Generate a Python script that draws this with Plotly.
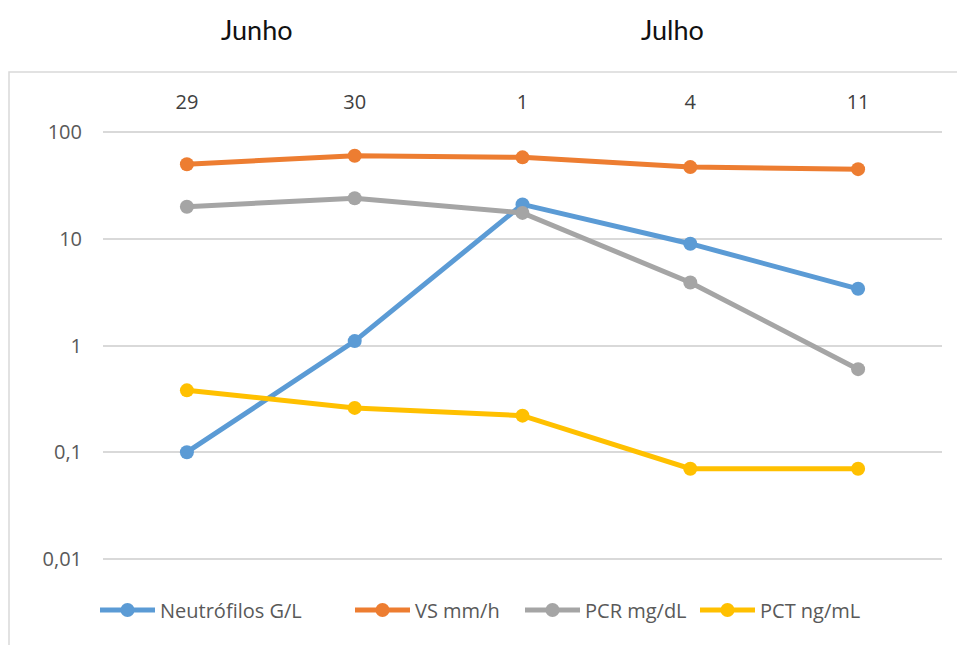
import plotly.graph_objects as go

categories = ["29", "30", "1", "4", "11"]
neutrofilos = [0.1, 1.1, 21, 9, 3.4]
vs = [50, 60, 58, 47, 45]
pcr = [20, 24, 17.5, 3.9, 0.6]
pct = [0.38, 0.26, 0.22, 0.07, 0.07]
series_names = ["Neutrófilos G/L", "VS mm/h", "PCR mg/dL", "PCT ng/mL"]
colors = ["#5B9BD5", "#ED7D31", "#A5A5A5", "#FFC000"]
y_tickvals = [0.01, 0.1, 1, 10, 100]
y_ticktext = ["0,01", "0,1", "1", "10", "100"]
months = ["Junho", "Julho"]

W, H = 957, 645
L, R, T, B = 103, 15, 130, 84
pw, ph = W - L - R, H - T - B

def px_x(p):
    return (p - L) / pw

def px_y(p):
    return (H - B - p) / ph

legend_ids = ["legend", "legend2", "legend3", "legend4"]
legend_px = [95, 350, 520, 695]

fig = go.Figure()
for name, vals, col, lid in zip(series_names, [neutrofilos, vs, pcr, pct], colors, legend_ids):
    fig.add_trace(go.Scatter(
        x=categories, y=vals, name=name, mode="lines+markers",
        line=dict(color=col, width=5),
        marker=dict(color=col, size=14),
        legend=lid,
    ))

legend_layout = {}
for lid, lx in zip(legend_ids, legend_px):
    legend_layout[lid] = dict(
        orientation="h", x=px_x(lx), xanchor="left",
        y=px_y(610), yanchor="middle",
        font=dict(size=20, color="#595959"),
        itemwidth=55, bgcolor="rgba(0,0,0,0)",
    )

fig.update_layout(
    width=W, height=H,
    margin=dict(l=L, r=R, t=T, b=B),
    paper_bgcolor="white", plot_bgcolor="white",
    font=dict(family="Open Sans, sans-serif", color="#595959"),
    xaxis=dict(
        type="category", side="top", range=[-0.5, 4.5],
        showgrid=False, showline=False, zeroline=False,
        ticks="", tickfont=dict(size=20, color="#404040"),
        ticklabelstandoff=16,
    ),
    yaxis=dict(
        type="log", range=[-2.02, 2.02],
        tickvals=y_tickvals, ticktext=y_ticktext,
        showgrid=True, gridcolor="#D9D9D9", gridwidth=1.5,
        showline=False, zeroline=False, ticks="",
        tickfont=dict(size=20, color="#595959"),
        ticklabelstandoff=20,
    ),
    showlegend=True,
    **legend_layout,
)

# outer chart frame
fig.add_shape(
    type="rect", xref="paper", yref="paper",
    x0=px_x(9), x1=px_x(975), y0=px_y(665), y1=px_y(72),
    line=dict(color="#D9D9D9", width=1.5), fillcolor="rgba(0,0,0,0)",
    layer="below",
)

for m, xp in zip(months, [257, 672]):
    fig.add_annotation(
        text=m, xref="paper", yref="paper",
        x=px_x(xp), y=px_y(29), showarrow=False,
        font=dict(size=27, color="#111111", family="Lato, sans-serif"),
        xanchor="center", yanchor="middle",
    )

fig.write_html(
    "out.html",
    config={"displayModeBar": False},
    post_script="document.body.style.margin='0';document.body.style.overflow='hidden';",
)
